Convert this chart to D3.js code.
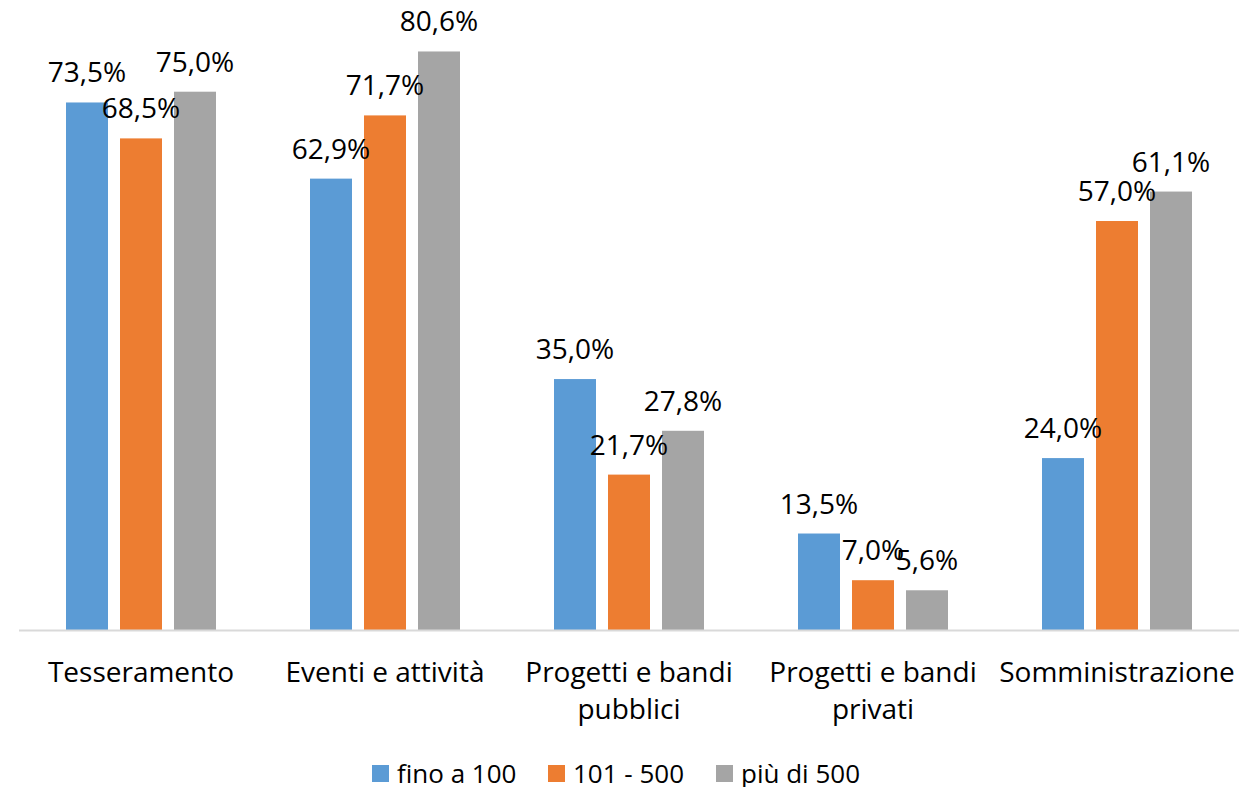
<!DOCTYPE html>
<html>
<head>
<meta charset="utf-8">
<script src="https://cdn.jsdelivr.net/npm/d3@7"></script>
<style>
  html, body { margin: 0; padding: 0; background: #fff; }
  svg { display: block; }
  text { font-family: "Open Sans", "Liberation Sans", sans-serif; fill: #000; }
</style>
</head>
<body>
<svg id="chart" width="1258" height="787"></svg>
<script>
const categories = [
  ["Tesseramento"],
  ["Eventi e attività"],
  ["Progetti e bandi", "pubblici"],
  ["Progetti e bandi", "privati"],
  ["Somministrazione"]
];
const seriesNames = ["fino a 100", "101 - 500", "più di 500"];
const seriesColors = ["#5B9BD5", "#ED7D31", "#A5A5A5"];
const fino100 = [73.5, 62.9, 35.0, 13.5, 24.0];
const da101a500 = [68.5, 71.7, 21.7, 7.0, 57.0];
const oltre500 = [75.0, 80.6, 27.8, 5.6, 61.1];
const seriesValues = [fino100, da101a500, oltre500];

const svg = d3.select("#chart");
const baseY = 630.5;
const catKeys = categories.map(c => c.join(" "));

const x0 = d3.scaleBand().domain(catKeys).range([19, 1239]).padding(0);
const x1 = d3.scaleBand().domain(seriesNames).range([47, 197]).paddingInner(12 / 54).paddingOuter(0);
const y = d3.scaleLinear().domain([0, 90]).range([baseY, baseY - 90 * 7.184]);

const fmt = v => d3.format(".1f")(v).replace(".", ",") + "%";

// bars
const groups = svg.append("g").selectAll("g")
  .data(catKeys)
  .join("g")
  .attr("transform", d => `translate(${x0(d)},0)`);

seriesNames.forEach((s, si) => {
  groups.append("rect")
    .attr("x", x1(s))
    .attr("width", x1.bandwidth())
    .attr("y", (d, i) => y(seriesValues[si][i]))
    .attr("height", (d, i) => baseY - y(seriesValues[si][i]))
    .attr("fill", seriesColors[si]);
});

// axis line
svg.append("line")
  .attr("x1", x0.range()[0]).attr("x2", x0.range()[1])
  .attr("y1", baseY).attr("y2", baseY)
  .attr("stroke", "#D9D9D9").attr("stroke-width", 2);

// data labels
seriesNames.forEach((s, si) => {
  groups.append("text")
    .attr("x", x1(s) + x1.bandwidth() / 2)
    .attr("y", (d, i) => y(seriesValues[si][i]) - 20)
    .attr("text-anchor", "middle")
    .attr("font-size", 28)
    .text((d, i) => fmt(seriesValues[si][i]));
});

// category labels
categories.forEach((lines, i) => {
  const t = svg.append("text")
    .attr("x", x0(catKeys[i]) + x0.bandwidth() / 2)
    .attr("y", 682)
    .attr("text-anchor", "middle")
    .attr("font-size", 28);
  lines.forEach((ln, li) => {
    t.append("tspan")
      .attr("x", x0(catKeys[i]) + x0.bandwidth() / 2)
      .attr("y", 682 + li * 37)
      .text(ln);
  });
});

// legend
const legendX = [372, 548, 716];
seriesNames.forEach((s, si) => {
  const g = svg.append("g").attr("transform", `translate(${legendX[si]},0)`);
  g.append("rect").attr("x", 0).attr("y", 765).attr("width", 17).attr("height", 17).attr("fill", seriesColors[si]);
  g.append("text").attr("x", 25).attr("y", 782.5).attr("font-size", 26).text(s);
});
</script>
</body>
</html>
